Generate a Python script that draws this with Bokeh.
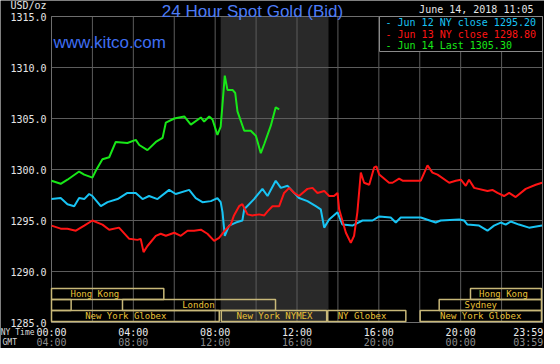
from bokeh.plotting import figure
from bokeh.models import Range1d
from bokeh.embed import file_html
from bokeh.resources import INLINE
from bokeh.core.properties import value

# ---------------- data ----------------
# hours (NY time) and price (USD/oz)
jun14_t = [0.00, 0.45, 0.78, 1.35, 1.60, 2.00, 2.17, 2.49, 2.82, 3.14, 3.71, 4.12, 4.29,
           4.69, 5.10, 5.43, 5.59, 6.00, 6.49, 6.81, 7.30, 7.46, 7.71, 7.87, 8.11, 8.27,
           8.47, 8.60, 8.85, 8.98, 9.09, 9.42, 9.74, 9.99, 10.23, 10.40, 10.72, 10.96, 11.13]
jun14_p = [1298.9, 1298.6, 1299.0, 1299.8, 1299.5, 1299.2, 1299.9, 1301.0, 1301.2, 1302.7,
           1302.6, 1302.9, 1302.4, 1301.9, 1302.7, 1303.1, 1304.6, 1305.0, 1305.2, 1304.4,
           1305.1, 1304.7, 1305.2, 1304.9, 1303.4, 1304.2, 1309.2, 1307.8, 1307.8, 1307.5,
           1305.7, 1303.8, 1303.8, 1303.3, 1301.6, 1302.5, 1304.3, 1306.1, 1305.9]

jun12_t = [0.00, 0.45, 0.78, 1.11, 1.35, 1.60, 1.84, 2.00, 2.41, 2.74, 3.23, 3.71, 4.12,
           4.45, 4.77, 5.18, 5.75, 6.07, 6.73, 7.05, 7.38, 7.79, 8.11, 8.27, 8.36, 8.47,
           8.68, 9.01, 9.33, 9.42, 9.90, 10.31, 10.56, 10.96, 11.21, 11.54, 12.10, 12.51,
           12.92, 13.16, 13.33, 13.57, 13.98, 14.22, 14.71, 15.20, 15.69, 16.02, 16.58,
           16.83, 17.07, 18.05, 18.78, 19.02, 19.93, 20.17, 20.33, 20.90, 21.31, 21.63,
           21.96, 22.20, 22.45, 22.85, 23.34, 23.98]
jun12_p = [1297.1, 1297.2, 1296.6, 1296.4, 1297.2, 1297.1, 1297.6, 1297.4, 1296.4, 1296.8,
           1297.1, 1297.7, 1297.7, 1297.1, 1297.4, 1297.1, 1298.0, 1297.6, 1298.0, 1297.2,
           1296.8, 1296.9, 1297.2, 1296.8, 1295.8, 1293.5, 1294.5, 1294.8, 1295.0, 1296.1,
           1297.1, 1298.1, 1297.4, 1298.9, 1298.2, 1298.4, 1297.2, 1296.9, 1296.4, 1296.1,
           1294.3, 1295.1, 1295.8, 1294.6, 1294.5, 1295.0, 1295.0, 1295.4, 1295.3, 1294.8,
           1295.3, 1295.3, 1294.8, 1295.0, 1295.1, 1295.0, 1294.6, 1294.5, 1294.0, 1294.5,
           1294.8, 1294.6, 1294.9, 1294.6, 1294.3, 1294.5]

jun13_t = [0.00, 0.45, 0.78, 1.19, 1.60, 2.00, 2.49, 2.82, 3.30, 3.80, 4.20, 4.36, 4.50,
           4.69, 5.10, 5.34, 5.59, 6.00, 6.32, 6.65, 6.97, 7.30, 7.62, 7.95, 8.19, 8.51,
           8.76, 8.92, 9.17, 9.33, 9.58, 9.82, 10.15, 10.40, 10.56, 10.80, 11.13, 11.37,
           11.62, 11.86, 12.10, 12.51, 12.76, 13.00, 13.33, 13.57, 13.81, 13.98, 14.06,
           14.39, 14.63, 14.79, 14.95, 15.12, 15.28, 15.53, 15.77, 15.88, 16.02, 16.50,
           16.67, 16.99, 17.16, 18.05, 18.38, 18.62, 18.87, 19.44, 19.76, 20.01, 20.25,
           20.41, 20.66, 21.31, 21.55, 21.80, 22.12, 22.37, 22.69, 23.18, 23.67, 23.98]
jun13_p = [1294.5, 1294.2, 1294.2, 1294.0, 1294.5, 1295.0, 1294.6, 1294.1, 1294.3, 1293.2,
           1293.1, 1293.2, 1291.9, 1292.5, 1293.5, 1293.7, 1293.5, 1293.8, 1293.5, 1294.0,
           1294.0, 1294.1, 1293.7, 1293.0, 1293.3, 1294.1, 1294.6, 1295.5, 1296.4, 1296.6,
           1295.6, 1295.5, 1295.6, 1295.5, 1295.9, 1296.4, 1296.4, 1297.7, 1298.2, 1297.7,
           1297.4, 1298.1, 1298.2, 1297.7, 1297.9, 1297.4, 1297.4, 1297.7, 1296.1, 1293.8,
           1292.8, 1293.5, 1295.8, 1299.7, 1298.7, 1298.5, 1300.2, 1300.3, 1299.5, 1298.7,
           1298.7, 1299.1, 1298.9, 1298.9, 1300.4, 1299.7, 1299.5, 1298.7, 1298.9, 1299.0,
           1298.4, 1299.0, 1298.2, 1297.9, 1298.0, 1297.7, 1297.4, 1297.7, 1297.3, 1298.1,
           1298.5, 1298.7]

y_ticks = [1285, 1290, 1295, 1300, 1305, 1310, 1315]
y_labels = ["1285.0", "1290.0", "1295.0", "1300.0", "1305.0", "1310.0", "1315.0"]
ny_ticks = [0, 4, 8, 12, 16, 20, 23.3]
ny_labels = ["00:00", "04:00", "08:00", "12:00", "16:00", "20:00", "23:59"]
gmt_labels = ["04:00", "08:00", "12:00", "16:00", "20:00", "00:00", "03:59"]
grid_hours = [0, 2, 4, 6, 8, 10, 12, 14, 16, 18, 20, 22, 24]

nymex_open, nymex_close = 8.27, 13.54

sess_name = ["Hong Kong", "Hong Kong", "", "London", "Sydney",
             "New York Globex", "New York NYMEX", "NY Globex", "New York Globex"]
sess_start = [0.0, 20.48, 0.0, 3.47, 18.95, 0.0, 8.30, 13.50, 18.02]
sess_end = [5.49, 23.95, 0.96, 10.95, 23.95, 8.20, 13.45, 17.32, 23.95]
sess_row = [0, 0, 1, 1, 1, 2, 2, 2, 2]
sess_text_x = [2.12, 22.09, 0.5, 7.18, 20.98, 3.63, 10.90, 15.18, 20.98]

legend_text = ["- Jun 12 NY close 1295.20", "- Jun 13 NY close 1298.80", "- Jun 14 Last 1305.30"]
CYAN, RED, GREEN = "#18c4f4", "#ff1414", "#18e818"
legend_color = [CYAN, RED, GREEN]

# ---------------- layout geometry (pixels) ----------------
W, H = 544, 348
PL, PR, PT, PB = 51, 542, 16, 322          # plot-area box inside the canvas
x0, x1 = 0.0, 24.0
ylo, yhi = 1285.0, 1315.0
pxh = (PR - PL) / (x1 - x0)                # px per hour
pyu = (PB - PT) / (yhi - ylo)              # px per USD
X_START = x0 - PL / pxh
X_END = x1 + (W - PR) / pxh
Y_START = ylo - (H - PB) / pyu
Y_END = yhi + PT / pyu


def hx(px):   # canvas x pixel -> hours
    return x0 + (px - PL) / pxh


def py(pix):  # canvas y pixel -> price
    return yhi - (pix - PT) / pyu


p = figure(width=W, height=H, output_backend="svg", toolbar_location=None,
           x_range=Range1d(X_START, X_END), y_range=Range1d(Y_START, Y_END),
           x_axis_type=None, y_axis_type=None,
           min_border_left=0, min_border_right=0, min_border_top=0, min_border_bottom=0)
p.background_fill_color = "black"
p.border_fill_color = "black"
p.outline_line_color = None

GRID = "#5c5c5c"
mono = "DejaVu Sans Mono"

# shaded NYMEX trading period
p.quad(left=[nymex_open], right=[nymex_close], bottom=[ylo], top=[yhi],
       fill_color="#292929", line_color=None)

# grid lines
p.segment(x0=grid_hours, x1=grid_hours, y0=[ylo] * len(grid_hours), y1=[yhi] * len(grid_hours),
          line_color=GRID, line_width=1)
p.segment(x0=[x0] * len(y_ticks), x1=[x1] * len(y_ticks), y0=y_ticks, y1=y_ticks,
          line_color=GRID, line_width=1)
# plot area border
p.quad(left=[x0], right=[x1], bottom=[ylo], top=[yhi], fill_color=None,
       line_color="#6e6e6e", line_width=1)

# y tick labels
p.text(x=[hx(46)] * len(y_ticks), y=y_ticks, text=y_labels, text_align="right",
       text_baseline="middle", text_color="#e6e6e6", text_font=value(mono),
       text_font_size="10px")
# x tick labels: NY time and GMT
p.text(x=ny_ticks, y=[py(332)] * len(ny_ticks), text=ny_labels, text_align="center",
       text_baseline="middle", text_color="#ececec", text_font=value(mono),
       text_font_size="10px")
p.text(x=ny_ticks, y=[py(341.5)] * len(ny_ticks), text=gmt_labels, text_align="center",
       text_baseline="middle", text_color="#8c8c8c", text_font=value(mono),
       text_font_size="10px")
p.text(x=[hx(0.3)], y=[py(332)], text=["NY Time"], text_align="left", text_baseline="middle",
       text_color="#dcdcdc", text_font=value(mono), text_font_size="8px")
p.text(x=[hx(2)], y=[py(341.5)], text=["GMT"], text_align="left", text_baseline="middle",
       text_color="#dcdcdc", text_font=value(mono), text_font_size="8px")

# series
p.line(jun12_t, jun12_p, line_color=CYAN, line_width=2)
p.line(jun13_t, jun13_p, line_color=RED, line_width=2)
p.line(jun14_t, jun14_p, line_color=GREEN, line_width=2)

# market session boxes
row_top0 = py(288)
row_h = 11 / pyu
sess_top = [row_top0 - r * row_h for r in sess_row]
sess_bot = [t - row_h for t in sess_top]
sess_mid = [t - row_h / 2 for t in sess_top]
p.quad(left=sess_start, right=sess_end, top=sess_top, bottom=sess_bot,
       fill_color=None, line_color="#c8b878", line_width=1.5)
p.text(x=sess_text_x, y=sess_mid, text=sess_name, text_align="center",
       text_baseline="middle", text_color="#eac238", text_font=value(mono),
       text_font_size="9px")

# legend box
p.quad(left=[hx(379)], right=[x1], top=[yhi], bottom=[py(51)],
       fill_color="black", line_color="#8a8a8a", line_width=1)
p.text(x=[hx(385)] * 3, y=[py(22.3), py(33.5), py(44.5)], text=legend_text,
       text_color=legend_color, text_align="left", text_baseline="middle",
       text_font=value(mono), text_font_size="10px")

# headings
p.text(x=[hx(46)], y=[py(5)], text=["USD/oz"], text_align="right", text_baseline="middle",
       text_color="#e6e6e6", text_font=value(mono), text_font_size="10px")
p.text(x=[hx(252)], y=[py(11.3)], text=["24 Hour Spot Gold (Bid)"], text_align="center",
       text_baseline="alphabetic", text_color="#4d7cf6",
       text_font=value("Liberation Sans"), text_font_size="17px")
p.text(x=[hx(53)], y=[py(42)], text=["www.kitco.com"], text_align="left",
       text_baseline="alphabetic", text_color="#3f6ef2",
       text_font=value("Liberation Sans"), text_font_size="17px")
p.text(x=[hx(533)], y=[py(9)], text=["June 14, 2018 11:05"], text_align="right",
       text_baseline="middle", text_color="#e6e6e6", text_font=value(mono),
       text_font_size="10px")

open("out.html", "w").write(file_html(p, INLINE))
